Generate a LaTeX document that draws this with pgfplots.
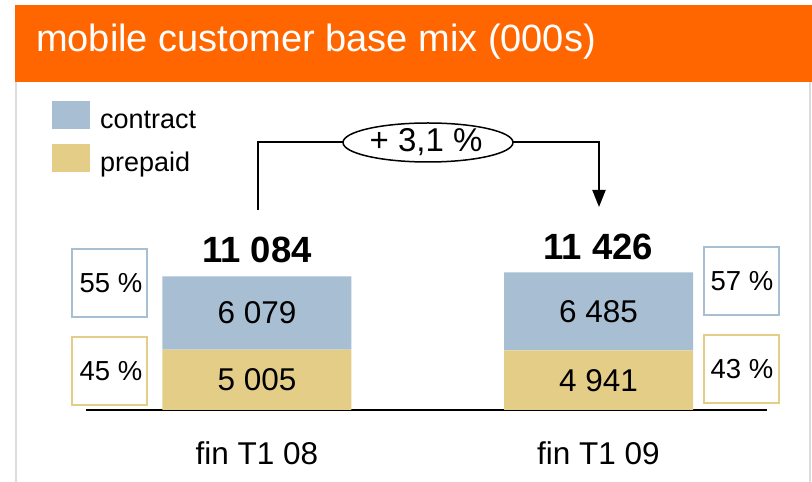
\documentclass[border=0pt]{standalone}
\usepackage{pgfplots}
\pgfplotsset{compat=1.18}
\usetikzlibrary{arrows.meta}
\usepackage{fontspec}
\setmainfont{Liberation Sans}
\definecolor{contractblue}{HTML}{A7BED3}
\definecolor{prepaidyellow}{HTML}{E3CD87}
\definecolor{orangeband}{HTML}{FF6600}
\definecolor{framegray}{HTML}{DCDCDC}
\begin{document}
\begin{tikzpicture}[x=1pt,y=1pt]
\useasboundingbox (0,0) rectangle (812,482);
% header band and frame
\fill[orangeband] (15,400) rectangle (812,477);
\draw[framegray,line width=2pt] (16,0) -- (16,400);
\draw[framegray,line width=2pt] (810,0) -- (810,400);
\node[anchor=base west, text=white, inner sep=0pt, font=\fontsize{38}{42}\selectfont] at (36,430) {mobile customer base mix (000s)};

\begin{axis}[
  at={(86pt,72pt)}, anchor=south west,
  scale only axis, width=681pt, height=200pt,
  xmin=-0.5007, xmax=1.4934, ymin=0, ymax=16600,
  clip=false,
  ybar stacked, bar width=189pt,
  axis x line*=bottom, axis y line=none,
  x axis line style={line width=1.6pt, black},
  xtick={0,1}, xticklabels={fin T1 08, fin T1 09},
  major tick length=0pt,
  xticklabel style={anchor=base, yshift=-55pt, font=\fontsize{31.5}{34}\selectfont},
  reverse legend,
  legend image code/.code={\fill[#1] (0pt,-9pt) rectangle (38pt,19pt);},
  legend style={at={(-0.04993,1.545)}, anchor=north west, draw=none, fill=none,
    inner sep=0pt, row sep=14pt, column sep=10pt,
    nodes={inner sep=0pt}, font=\fontsize{27}{30}\selectfont},
  legend cell align=left,
]
\addplot[fill=prepaidyellow, draw=none] coordinates {(0,5005) (1,4941)};
\addplot[fill=contractblue, draw=none] coordinates {(0,6079) (1,6485)};
\legend{prepaid, contract}

\coordinate (p1) at (axis cs:0,2502.5);
\coordinate (c1) at (axis cs:0,8044.5);
\coordinate (p2) at (axis cs:1,2470.5);
\coordinate (c2) at (axis cs:1,8183.5);
\coordinate (t1) at (axis cs:0,11084);
\coordinate (t2) at (axis cs:1,11426);
\end{axis}

% segment values
\node[font=\fontsize{31.5}{34}\selectfont] at (p1) {5 005};
\node[font=\fontsize{31.5}{34}\selectfont] at (c1) {6 079};
\node[font=\fontsize{31.5}{34}\selectfont] at (p2) {4 941};
\node[font=\fontsize{31.5}{34}\selectfont] at (c2) {6 485};
% totals
\node[anchor=base, font=\fontsize{36.5}{40}\selectfont\bfseries, yshift=13.5pt] at (t1) {11 084};
\node[anchor=base, font=\fontsize{36.5}{40}\selectfont\bfseries, yshift=12.5pt] at (t2) {11 426};

% share boxes
\draw[contractblue, line width=2pt] (72,165) rectangle (147,233);
\node[font=\fontsize{27.5}{30}\selectfont] at (111,199) {55 \%};
\draw[prepaidyellow, line width=2pt] (72,77) rectangle (147,145);
\node[font=\fontsize{27.5}{30}\selectfont] at (111,111) {45 \%};
\draw[contractblue, line width=2pt] (704,167) rectangle (779,235);
\node[font=\fontsize{27.5}{30}\selectfont] at (742,201) {57 \%};
\draw[prepaidyellow, line width=2pt] (704,79) rectangle (779,147);
\node[font=\fontsize{27.5}{30}\selectfont] at (742,113) {43 \%};

% growth arrow
\draw[line width=2pt] (257.5,272) |- (343,339.5);
\draw[line width=1.5pt] (428,339.5) ellipse (85 and 19.5);
\node[font=\fontsize{33}{36}\selectfont] at (426,340) {+ 3,1 \%};
\draw[line width=2pt, -{Triangle[width=13pt,length=17pt]}] (513,339.5) -| (599,275);
\end{tikzpicture}
\end{document}
